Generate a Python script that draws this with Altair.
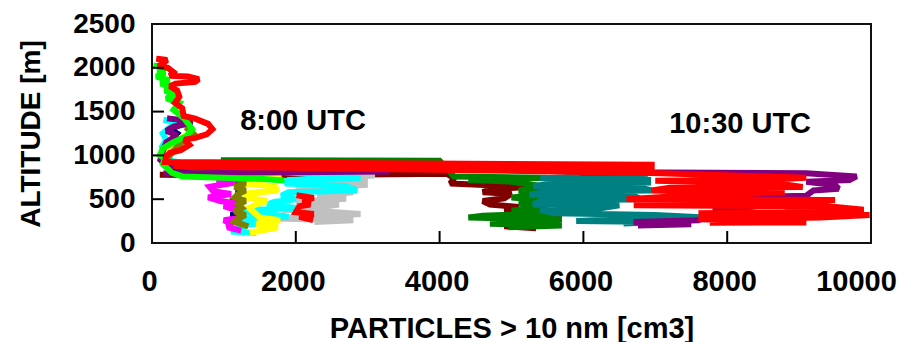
import altair as alt
import pandas as pd

# ---------------- data ----------------
X_TICKS = [0, 2000, 4000, 6000, 8000, 10000]
Y_TICKS = [0, 500, 1000, 1500, 2000, 2500]
INNER_X_TICKS = [2000, 4000, 6000, 8000]
INNER_Y_TICKS = [500, 1000, 1500, 2000]

LABELS = ["8:00 UTC", "10:30 UTC"]
LABEL_X = [2100, 8180]
LABEL_Y = [1290, 1256]

GRAY8_X = [250, 3300, 2200, 3100, 2600, 3000, 2100, 3000, 2500, 2000, 2800, 2300, 2700, 2000, 2600, 2300, 1800, 2500, 2900, 2200, 1700, 2800, 2300]
GRAY8_Y = [860, 835, 820, 770, 750, 710, 690, 665, 640, 600, 580, 540, 505, 470, 440, 405, 380, 355, 330, 300, 280, 260, 240]

NAVY8_X = [300, 400, 250, 350, 250, 150, 120, 300, 1200, 1200, 1100, 1250, 1150, 1250, 1100, 1200, 1100]
NAVY8_Y = [1400, 1350, 1300, 1250, 1150, 1050, 950, 840, 760, 520, 480, 440, 400, 360, 320, 280, 240]

CYAN8_X = [200, 330, 250, 150, 200, 140, 180, 120, 200, 600, 2500, 2900, 1900, 1850, 2700, 2850, 1900, 1800, 2000, 1700, 1600, 2000, 1450, 1200, 1600, 1900, 1300, 1100, 1450, 1150, 1300, 1100, 1400]
CYAN8_Y = [1400, 1380, 1320, 1250, 1180, 1100, 1050, 1000, 950, 880, 770, 740, 720, 680, 650, 600, 580, 540, 500, 470, 440, 400, 380, 360, 330, 300, 280, 250, 220, 190, 160, 130, 115]

MAGENTA8_X = [1100, 900, 1150, 800, 850, 1100, 780, 950, 1180, 1000, 1150, 1250, 1000, 1100, 1050, 1200]
MAGENTA8_Y = [760, 720, 690, 640, 590, 560, 520, 480, 450, 420, 380, 290, 260, 220, 180, 150]

YELLOW8_X = [500, 560, 400, 250, 150, 250, 800, 1500, 1800, 1300, 1250, 1700, 1750, 1350, 1300, 1600, 1450, 1350, 1500, 1780, 1450, 1750, 1500, 1400]
YELLOW8_Y = [1320, 1260, 1200, 1100, 1000, 900, 840, 770, 740, 720, 680, 650, 600, 570, 520, 480, 440, 400, 290, 260, 220, 180, 140, 120]

OLIVE8_X = [500, 570, 480, 350, 250, 200, 600, 1200, 1300, 1150, 1300, 1200, 1150, 1300, 1200, 1250, 1150, 1300, 1200, 1150, 1300]
OLIVE8_Y = [1300, 1250, 1200, 1100, 1000, 930, 850, 720, 680, 640, 600, 560, 520, 480, 440, 400, 360, 320, 280, 240, 200]

PURPLE8_X = [250, 450, 560, 300, 200, 350, 200, 150, 120, 200, 3300, 1500, 200]
PURPLE8_Y = [1420, 1400, 1370, 1330, 1280, 1230, 1150, 1050, 950, 880, 815, 805, 795]

LIME8_X = [60, 200, 80, 180, 60, 240, 120, 280, 180, 320, 200, 380, 300, 450, 560, 480, 300, 150, 110, 180, 150, 280, 420, 1550, 1800]
LIME8_Y = [2020, 2000, 1970, 1940, 1900, 1860, 1820, 1780, 1740, 1700, 1650, 1600, 1520, 1420, 1300, 1220, 1150, 1080, 1000, 960, 900, 800, 760, 730, 715]

RED8_X = [2050, 2250, 2100, 2200, 2050, 2000, 2250, 2050, 2200]
RED8_Y = [540, 515, 480, 440, 420, 350, 330, 300, 270]

MAROON10_X = [150, 1400, 4100, 4200, 4150, 4700, 5200, 4700, 4600, 5000, 4900, 4600, 4700, 5100, 4900, 5300, 5700, 5200, 5600, 5100, 4900, 5300]
MAROON10_Y = [780, 770, 790, 740, 680, 660, 640, 610, 580, 560, 510, 480, 440, 410, 380, 350, 320, 290, 260, 240, 190, 170]

DKGREEN10_X = [1000, 4000, 4200, 5500, 4400, 5000, 5500, 5100, 5500, 5000, 5600, 5100, 5500, 5000, 5600, 4600, 4400, 5700, 5200, 4700, 5700, 5000]
DKGREEN10_Y = [945, 940, 760, 745, 720, 700, 640, 600, 560, 520, 480, 450, 400, 370, 340, 310, 290, 270, 240, 220, 200, 180]

TEAL10_X = [5800, 6900, 6000, 5400, 6900, 6900, 5600, 5300, 6800, 6950, 5500, 5250, 6700, 6800, 5400, 5300, 6500, 6200, 5400, 5600, 7000, 7700, 6500, 5900, 7100, 6600]
TEAL10_Y = [800, 790, 760, 740, 720, 690, 680, 650, 630, 600, 590, 550, 540, 500, 480, 440, 430, 390, 380, 340, 320, 290, 270, 250, 240, 225]

PURPLE10_X = [6000, 7100, 9100, 9800, 9700, 9100, 9500, 9550, 9200, 9100, 8000, 8500, 9100, 8600, 7800, 8500, 8600, 7700, 7600, 6700, 7500, 6800]
PURPLE10_Y = [805, 805, 795, 760, 720, 700, 660, 620, 600, 540, 520, 490, 475, 440, 370, 340, 310, 300, 260, 240, 215, 200]

RED10_X = [100, 210, 150, 90, 220, 300, 250, 500, 650, 600, 330, 250, 350, 380, 320, 420, 440, 600, 780, 840,
           760, 600, 450, 520, 400, 250, 200, 180, 6950, 6950, 300, 3700, 6950, 9100, 8500, 7000, 8700, 9050, 7200, 6950,
           8800, 8200, 7500, 6600, 9500, 8300, 6700, 9400, 9900, 8800, 7600, 9980, 9300, 7600, 8800, 9100, 7800]
RED10_Y = [2100, 2090, 2050, 2020, 2000, 1950, 1910, 1900, 1870, 1840, 1820, 1790, 1740, 1670, 1600, 1540, 1450, 1420, 1360, 1300,
           1240, 1200, 1180, 1120, 1060, 1030, 990, 925, 893, 850, 875, 840, 800, 745, 720, 710, 680, 640, 630, 600,
           580, 560, 545, 500, 490, 460, 430, 420, 380, 350, 340, 320, 290, 270, 250, 235, 230]

SERIES = [
    ("maroon10", "#800000", MAROON10_X, MAROON10_Y),
    ("gray8", "#C0C0C0", GRAY8_X, GRAY8_Y),
    ("navy8", "#000080", NAVY8_X, NAVY8_Y),
    ("cyan8", "#00FFFF", CYAN8_X, CYAN8_Y),
    ("magenta8", "#FF00FF", MAGENTA8_X, MAGENTA8_Y),
    ("yellow8", "#FFFF00", YELLOW8_X, YELLOW8_Y),
    ("olive8", "#808000", OLIVE8_X, OLIVE8_Y),
    ("purple8", "#800080", PURPLE8_X, PURPLE8_Y),
    ("lime8", "#00FF00", LIME8_X, LIME8_Y),
    ("red8", "#FF0000", RED8_X, RED8_Y),
    ("dkgreen10", "#008000", DKGREEN10_X, DKGREEN10_Y),
    ("teal10", "#008080", TEAL10_X, TEAL10_Y),
    ("purple10", "#800080", PURPLE10_X, PURPLE10_Y),
    ("red10", "#FF0000", RED10_X, RED10_Y),
]

rows = []
for name, color, xs, ys in SERIES:
    assert len(xs) == len(ys), name
    for i, (xv, yv) in enumerate(zip(xs, ys)):
        rows.append({"series": name, "i": i, "x": xv, "y": yv})
df = pd.DataFrame(rows)
ann_df = pd.DataFrame({"label": LABELS, "x": LABEL_X, "y": LABEL_Y})
xtick_df = pd.DataFrame({"x": INNER_X_TICKS})
ytick_df = pd.DataFrame({"y": INNER_Y_TICKS})

# ---------------- chart ----------------
FONT = "Liberation Sans"
W, H = 719, 219
TICK_LEN = 12
X_SCALE = alt.Scale(domain=[0, 10000], nice=False, zero=False)
Y_SCALE = alt.Scale(domain=[0, 2500], nice=False, zero=False)

X_AXIS = alt.Axis(orient="bottom", values=X_TICKS, format="d",
                  labelFont=FONT, labelFontSize=29, labelFontWeight="bold",
                  labelColor="black", labelPadding=24, labelFlush=False,
                  labelOverlap=False,
                  labelOffset={"condition": {"test": "datum.value == 10000", "value": -15}, "value": -3},
                  ticks=False, domain=False, grid=False,
                  title="PARTICLES > 10 nm [cm3]", titleFont=FONT, titleFontSize=29,
                  titleFontWeight="bold", titleColor="black",
                  titleX=W / 2, titleY=94, titleBaseline="alphabetic", titleAlign="center")
Y_AXIS = alt.Axis(orient="left", values=Y_TICKS, format="d",
                  labelFont=FONT, labelFontSize=28, labelFontWeight="bold",
                  labelColor="black", labelPadding=17, labelFlush=False,
                  labelOverlap=False,
                  ticks=False, domain=False, grid=False,
                  title="ALTITUDE [m]", titleFont=FONT, titleFontSize=28,
                  titleFontWeight="bold", titleColor="black",
                  titleX=-113, titleY=H / 2, titleAngle=270,
                  titleBaseline="alphabetic", titleAlign="center")

XENC = alt.X("x:Q", scale=X_SCALE, axis=X_AXIS)
YENC = alt.Y("y:Q", scale=Y_SCALE, axis=Y_AXIS)

line_layers = []
for name, color, xs, ys in SERIES:
    line_layers.append(
        alt.Chart(df)
        .transform_filter(alt.datum.series == name)
        .mark_line(color=color, strokeWidth=6, strokeJoin="miter",
                   strokeMiterLimit=2, strokeCap="square", clip=True)
        .encode(x=XENC, y=YENC, order="i:Q")
    )

xtick_layer = alt.Chart(xtick_df).mark_rule(color="black", strokeWidth=2).encode(
    x=XENC,
    y=alt.value(H),
    y2=alt.value(H - TICK_LEN),
)
ytick_layer = alt.Chart(ytick_df).mark_rule(color="black", strokeWidth=2).encode(
    y=YENC,
    x=alt.value(0),
    x2=alt.value(TICK_LEN),
)

text_layer = alt.Chart(ann_df).mark_text(
    font=FONT, fontSize=29, fontWeight="bold", color="black",
    align="center", baseline="alphabetic",
).encode(x=XENC, y=YENC, text="label:N")

chart = (
    alt.layer(*line_layers, xtick_layer, ytick_layer, text_layer)
    .properties(
        width=W, height=H,
        autosize=alt.AutoSizeParams(type="none"),
        padding={"left": 152, "top": 24, "right": 47, "bottom": 99},
        background="white",
    )
    .configure_view(stroke="#111111", strokeWidth=2)
)

chart.save("out.html", embed_options={"renderer": "svg", "actions": False})
